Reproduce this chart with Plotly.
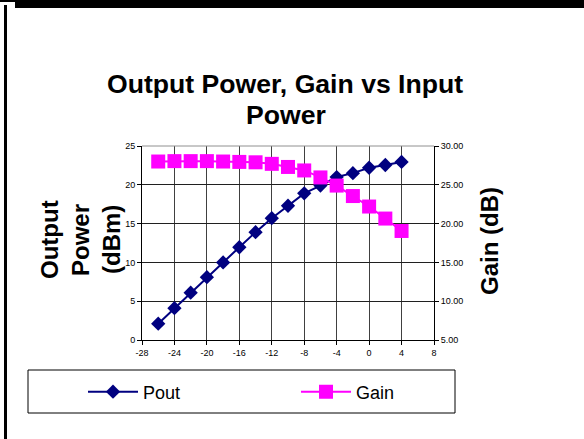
import plotly.graph_objects as go

W, H = 584, 439
pin = [-26, -24, -22, -20, -18, -16, -14, -12, -10, -8, -6, -4, -2, 0, 2, 4]
pout = [2.1, 4.1, 6.1, 8.1, 10.0, 11.95, 13.9, 15.7, 17.3, 18.9, 19.9, 21.0, 21.5, 22.2, 22.55, 22.95]
gain = [28.0, 28.05, 28.05, 28.05, 28.0, 27.95, 27.9, 27.7, 27.3, 26.85, 25.95, 24.9, 23.55, 22.2, 20.65, 19.05]

x_ticks = list(range(-28, 9, 4))
y1_ticks = [0, 5, 10, 15, 20, 25]
y2_ticks = [5, 10, 15, 20, 25, 30]

def px(x):
    return x / W

def py(y):
    return 1 - y / H

fig = go.Figure()
fig.add_trace(go.Scatter(x=pin, y=pout, name="Pout", mode="lines+markers", legend="legend",
                         line=dict(color="#000080", width=2),
                         marker=dict(symbol="diamond", size=11, color="#000080")))
fig.add_trace(go.Scatter(x=pin, y=gain, name="Gain", mode="lines+markers", yaxis="y2", legend="legend2",
                         line=dict(color="#FF00FF", width=2),
                         marker=dict(symbol="square", size=14, color="#FF00FF")))

tickfont = dict(family="Arial, Liberation Sans", size=9, color="black")
legfont = dict(family="Arial, Liberation Sans", size=18, color="black")
fig.update_layout(
    width=W, height=H,
    margin=dict(l=0, r=0, t=0, b=0, pad=0, autoexpand=False),
    paper_bgcolor="white", plot_bgcolor="white",
    xaxis=dict(domain=[px(142), px(434)], range=[-28, 8], tickvals=x_ticks,
               ticktext=[str(v) for v in x_ticks], showgrid=True, gridcolor="#404040", gridwidth=1,
               zeroline=False, showline=True, linecolor="black", linewidth=1,
               ticks="outside", ticklen=4, tickcolor="black", tickfont=tickfont),
    yaxis=dict(domain=[py(340), py(146)], range=[0, 25], tickvals=y1_ticks,
               showgrid=True, gridcolor="#202020", gridwidth=1, zeroline=False,
               showline=True, linecolor="black", linewidth=1,
               ticks="outside", ticklen=4, tickcolor="black", tickfont=tickfont),
    yaxis2=dict(overlaying="y", side="right", range=[5, 30], tickvals=y2_ticks,
                ticktext=["%.2f" % v for v in y2_ticks], showgrid=False, zeroline=False,
                showline=True, linecolor="black", linewidth=1,
                ticks="outside", ticklen=4, tickcolor="black", tickfont=tickfont),
    showlegend=True,
    legend=dict(orientation="h", x=px(83), y=py(392), yanchor="middle", xanchor="left",
                font=legfont, bgcolor="rgba(0,0,0,0)", borderwidth=0, itemwidth=50),
    legend2=dict(orientation="h", x=px(296), y=py(392), yanchor="middle", xanchor="left",
                 font=legfont, bgcolor="rgba(0,0,0,0)", borderwidth=0, itemwidth=50),
    font=dict(family="Arial, Liberation Sans"),
)

shapes = [
    dict(type="line", xref="paper", yref="paper", x0=px(142), x1=px(434), y0=py(146), y1=py(146),
         line=dict(color="#909090", width=1)),
    dict(type="rect", xref="paper", yref="paper", x0=px(28), x1=px(455), y0=py(413), y1=py(370),
         line=dict(color="black", width=1)),
    dict(type="rect", xref="paper", yref="paper", x0=px(15), x1=px(584), y0=py(8), y1=1,
         fillcolor="black", line=dict(width=0)),
    dict(type="rect", xref="paper", yref="paper", x0=0, x1=px(15), y0=py(2), y1=1,
         fillcolor="black", line=dict(width=0)),
    dict(type="rect", xref="paper", yref="paper", x0=px(4), x1=px(7), y0=0, y1=py(5),
         fillcolor="black", line=dict(width=0)),
]
fig.update_layout(shapes=shapes)

tf = dict(family="Arial, Liberation Sans", size=26.6, color="black")
lf = dict(family="Arial, Liberation Sans", size=24, color="black")
ann = [
    dict(text="<b>Output Power, Gain vs Input</b>", x=px(285), y=py(84), font=tf),
    dict(text="<b>Power</b>", x=px(286), y=py(115), font=tf),
    dict(text="<b>Output</b>", x=px(49), y=py(240), font=lf, textangle=-90),
    dict(text="<b>Power</b>", x=px(80), y=py(240), font=lf, textangle=-90),
    dict(text="<b>(dBm)</b>", x=px(111), y=py(240), font=lf, textangle=-90),
    dict(text="<b>Gain (dB)</b>", x=px(489), y=py(241), font=lf, textangle=-90),
]
for a in ann:
    a.update(xref="paper", yref="paper", showarrow=False, xanchor="center", yanchor="middle")
fig.update_layout(annotations=ann)

fig.write_html("out.html", config={"displayModeBar": False},
               post_script="document.body.style.margin='0px';")
